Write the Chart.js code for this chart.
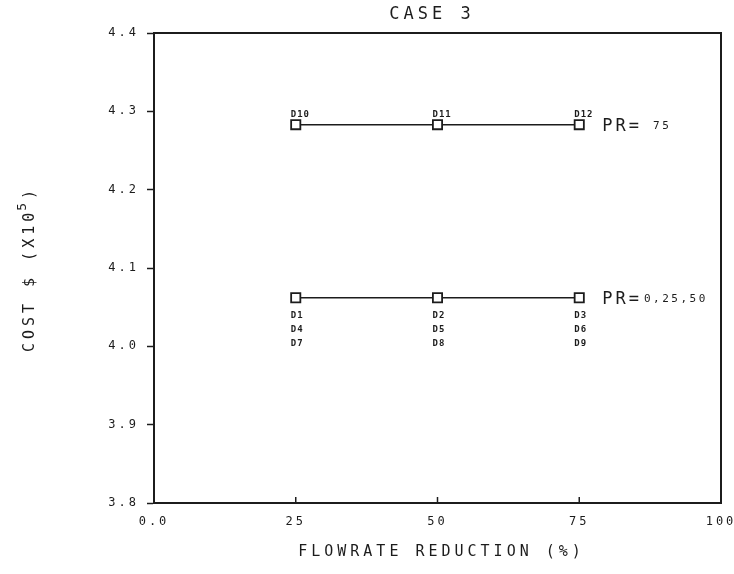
<!DOCTYPE html>
<html>
<head>
<meta charset="utf-8">
<script src="https://cdn.jsdelivr.net/npm/chart.js@4"></script>
<style>
    html, body { margin: 0; padding: 0; background: #fff; }
    canvas { display: block; }
</style>
</head>
<body>
<canvas id="cost-chart" width="734" height="574"></canvas>
<script>
// Flowrate reduction (%) on x, cost in units of 10^5 $ on y
const flowrate = [25, 50, 75];
const costPR75 = [4.283, 4.283, 4.283];
const costPR0_25_50 = [4.062, 4.062, 4.062];

// Run labels printed next to each point
const runsPR75 = ["D10", "D11", "D12"];
const runsPR0_25_50 = [["D1", "D4", "D7"], ["D2", "D5", "D8"], ["D3", "D6", "D9"]];
const prLabels = [" 75", "0,25,50"];

const xTicks = [0, 25, 50, 75, 100];
const yMin = 3.8, yMax = 4.4, yStep = 0.1;

const MONO = "'DejaVu Sans Mono', monospace";
const INK = "#1c1c1c";

// Frame, inner ticks, point labels and axis titles
const plotterText = {
    id: "plotterText",
    beforeDraw(chart) {
        chart.ctx.letterSpacing = "3px";
    },
    afterDatasetsDraw(chart) {
        const { ctx, chartArea: area, scales } = chart;
        ctx.save();

        // top and right edges of the box
        ctx.strokeStyle = INK;
        ctx.lineWidth = 2;
        ctx.beginPath();
        ctx.moveTo(area.left, area.top);
        ctx.lineTo(area.right, area.top);
        ctx.lineTo(area.right, area.bottom);
        ctx.stroke();

        // short ticks pointing up into the plot
        ctx.lineWidth = 1.5;
        xTicks.slice(1, -1).forEach((v) => {
            const px = scales.x.getPixelForValue(v);
            ctx.beginPath();
            ctx.moveTo(px, area.bottom);
            ctx.lineTo(px, area.bottom - 6);
            ctx.stroke();
        });

        ctx.fillStyle = INK;
        ctx.textBaseline = "alphabetic";
        ctx.textAlign = "left";

        // run names above the PR=75 points
        ctx.font = "bold 9px " + MONO;
        ctx.letterSpacing = "1px";
        const upper = chart.getDatasetMeta(0).data;
        upper.forEach((pt, i) => {
            ctx.fillText(runsPR75[i], pt.x - 5, pt.y - 8);
        });

        // run names stacked under the PR=0,25,50 points
        const lower = chart.getDatasetMeta(1).data;
        lower.forEach((pt, i) => {
            runsPR0_25_50[i].forEach((name, k) => {
                ctx.fillText(name, pt.x - 5, pt.y + 20 + k * 14);
            });
        });

        // PR= labels to the right of each line
        [upper, lower].forEach((pts, i) => {
            const last = pts[pts.length - 1];
            const x0 = last.x + 23;
            ctx.font = "17px " + MONO;
            ctx.letterSpacing = "3px";
            ctx.fillText("PR=", x0, last.y + 6);
            const w = ctx.measureText("PR=").width;
            ctx.font = "11px " + MONO;
            ctx.letterSpacing = "2.5px";
            ctx.fillText(prLabels[i], x0 + w + 2, last.y + 4);
        });

        // title
        ctx.textAlign = "center";
        ctx.font = "17px " + MONO;
        ctx.letterSpacing = "4px";
        ctx.fillText("CASE 3", 432, 19);

        // x axis title
        ctx.font = "15px " + MONO;
        ctx.letterSpacing = "4px";
        ctx.fillText("FLOWRATE REDUCTION (%)", (area.left + area.right) / 2 + 4, 556);

        // y axis title, rotated, with superscript exponent
        ctx.translate(34, (area.top + area.bottom) / 2);
        ctx.rotate(-Math.PI / 2);
        ctx.textAlign = "left";
        ctx.letterSpacing = "4px";
        const base = "COST $ (X10";
        ctx.font = "15px " + MONO;
        const wBase = ctx.measureText(base).width;
        ctx.font = "13px " + MONO;
        const wExp = ctx.measureText("5").width;
        ctx.font = "15px " + MONO;
        const wEnd = ctx.measureText(")").width;
        let tx = -(wBase + wExp + wEnd) / 2;
        ctx.fillText(base, tx, 0);
        tx += wBase - 2;
        ctx.font = "13px " + MONO;
        ctx.fillText("5", tx, -8);
        tx += wExp;
        ctx.font = "15px " + MONO;
        ctx.fillText(")", tx, 0);

        ctx.restore();
    },
};

const lineStyle = {
    borderColor: INK,
    borderWidth: 1.5,
    pointStyle: "rect",
    pointRadius: 6.5,
    pointBorderWidth: 1.8,
    pointBackgroundColor: "#fff",
    pointBorderColor: INK,
    tension: 0,
};

new Chart(document.getElementById("cost-chart"), {
    type: "line",
    data: {
        datasets: [
            { label: "PR=75", data: flowrate.map((x, i) => ({ x, y: costPR75[i] })), ...lineStyle },
            { label: "PR=0,25,50", data: flowrate.map((x, i) => ({ x, y: costPR0_25_50[i] })), ...lineStyle },
        ],
    },
    options: {
        responsive: false,
        animation: false,
        layout: { padding: { left: 0, right: 13, top: 33, bottom: 0 } },
        plugins: {
            legend: { display: false },
            tooltip: { enabled: false },
        },
        scales: {
            x: {
                type: "linear",
                min: 0,
                max: 100,
                afterBuildTicks: (scale) => {
                    scale.ticks = xTicks.map((value) => ({ value }));
                },
                afterFit: (scale) => {
                    scale.height = 71;
                    scale.paddingLeft = 0;
                    scale.paddingRight = 0;
                },
                grid: { drawOnChartArea: false, drawTicks: false },
                border: { display: true, color: INK, width: 2 },
                ticks: {
                    color: INK,
                    padding: 12,
                    maxRotation: 0,
                    font: { family: MONO, size: 12 },
                    callback: (v) => (v === 0 ? "0.0" : String(v)),
                },
            },
            y: {
                min: yMin,
                max: yMax,
                afterFit: (scale) => {
                    scale.width = 154;
                    scale.paddingTop = 0;
                    scale.paddingBottom = 0;
                },
                grid: { drawOnChartArea: false, drawTicks: true, tickLength: 7, color: INK, tickWidth: 1.5 },
                border: { display: true, color: INK, width: 2 },
                ticks: {
                    stepSize: yStep,
                    color: INK,
                    padding: 8,
                    font: { family: MONO, size: 12 },
                    callback: (v) => v.toFixed(1),
                },
            },
        },
    },
    plugins: [plotterText],
});
</script>
</body>
</html>
